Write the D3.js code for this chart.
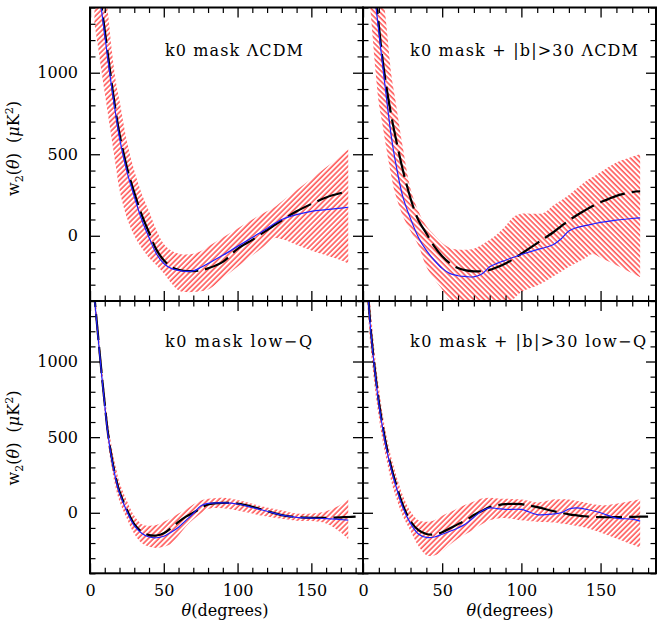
<!DOCTYPE html>
<html><head><meta charset="utf-8">
<script src="https://cdn.jsdelivr.net/npm/d3@7"></script>
<style>
html,body{margin:0;padding:0;background:#fff;}
svg{display:block;}
text{font-family:"DejaVu Serif",serif;fill:#000;}
</style></head>
<body>
<script>
// ---------------- DATA ----------------
const xTickLabels = [0, 50, 100, 150];
const yTickLabels = [0, 500, 1000];
const panelTitles = ["k0 mask \u039BCDM", "k0 mask + |b|>30 \u039BCDM", "k0 mask low\u2212Q", "k0 mask + |b|>30 low\u2212Q"];

// Top-left: k0 mask, LCDM
const thetaTL = [3,5,8,10,12,15,18,20,25,30,35,40,45,50,55,60,65,70,75,80,90,100,110,120,125,130,140,150,160,170,175];
const modelTL = [1740,1600,1395,1260,1120,915,730,625,420,265,130,20,-85,-150,-190,-208,-216,-217,-212,-200,-160,-80,-25,35,65,95,150,195,235,262,272];
const dataTL  = [1720,1580,1370,1230,1090,890,710,600,395,240,100,-10,-110,-170,-200,-212,-218,-215,-195,-170,-120,-65,-10,45,75,100,130,150,160,170,175];
const lowTL   = [1300,1185,995,875,755,575,395,280,110,0,-75,-135,-180,-230,-290,-335,-345,-345,-340,-330,-260,-190,-120,-50,-15,-20,-55,-90,-120,-150,-170];
const highTL  = [2000,1850,1650,1500,1380,1120,920,830,580,400,260,150,35,-50,-90,-110,-115,-110,-95,-65,-10,45,100,150,175,210,280,350,420,490,530];

// Top-right: k0 mask + |b|>30, LCDM
const thetaTR = [3,5,8,10,12,15,18,20,25,30,35,40,45,50,55,60,65,70,75,80,85,90,95,100,110,115,120,125,130,135,140,145,150,160,170,175];
const modelTR = [1920,1740,1470,1290,1110,900,730,630,410,230,95,15,-65,-125,-170,-198,-212,-218,-217,-210,-192,-170,-142,-110,-45,-12,20,58,95,126,155,182,205,245,268,273];
const dataTR  = [1870,1690,1420,1250,1080,830,600,480,245,105,-10,-90,-150,-200,-232,-245,-250,-252,-235,-190,-168,-150,-132,-115,-85,-72,-55,-20,30,50,62,72,82,96,106,110];
const lowTR   = [1580,1350,1000,810,700,522,360,270,125,30,-60,-190,-265,-330,-410,-460,-470,-475,-475,-470,-455,-430,-390,-345,-305,-280,-250,-220,-190,-165,-140,-112,-135,-180,-230,-253];
const highTR  = [2300,2100,1850,1700,1550,1270,980,860,550,290,150,60,5,-45,-75,-85,-85,-80,-55,-25,12,60,115,135,135,145,185,216,250,290,330,360,390,450,485,502];

// Bottom-left: k0 mask, low-Q
const thetaBL = [2,3,5,8,10,12,15,18,20,25,30,35,40,45,50,55,60,65,70,75,80,90,100,110,120,130,140,150,160,170,175,180];
const modelBL = [1530,1430,1220,910,720,540,350,210,140,20,-75,-125,-148,-150,-135,-100,-60,-25,0,30,55,66,60,40,11,-15,-28,-33,-34,-30,-28,-25];
const dataBL  = [1520,1420,1210,900,710,530,340,200,130,10,-85,-135,-160,-165,-155,-128,-95,-50,-5,45,62,65,58,35,10,-15,-30,-35,-38,-45,-48,null];
const lowBL   = [1450,1360,1150,840,650,470,280,140,75,-40,-140,-200,-225,-232,-225,-205,-150,-90,-45,-5,25,30,15,-5,-25,-40,-52,-55,-70,-130,-175,null];
const highBL  = [1600,1500,1290,980,790,610,420,280,200,80,-20,-75,-85,-80,-60,-35,-5,22,55,80,92,100,85,60,35,15,-5,-5,10,55,90,null];

// Bottom-right: k0 mask + |b|>30, low-Q
const thetaBR = [2,3,5,8,10,12,15,18,20,25,30,35,40,45,50,55,60,65,70,75,80,85,90,100,105,110,120,125,130,135,140,150,160,170,175,180];
const modelBR = [1650,1480,1200,900,735,600,430,295,220,55,-55,-115,-140,-143,-128,-102,-75,-50,-15,12,38,50,57,57,48,37,12,0,-10,-17,-23,-29,-29,-27,-26,-25];
const dataBR  = [1640,1470,1190,890,720,585,415,280,205,40,-70,-140,-163,-160,-142,-122,-100,-72,-30,12,32,28,22,22,5,-12,-8,0,25,33,25,0,-35,-42,-55,null];
const lowBR   = [1500,1340,1070,780,630,500,340,200,130,-20,-120,-220,-280,-283,-255,-210,-170,-140,-110,-75,-50,-38,-35,-50,-55,-60,-65,-70,-78,-88,-97,-130,-170,-210,-231,null];
const highBR  = [1800,1620,1330,1000,830,680,500,360,285,120,10,-50,-60,-50,-20,5,30,55,75,95,100,95,92,88,78,68,88,88,88,78,68,50,60,80,90,null];

// ---------------- LAYOUT ----------------
const W = 658, H = 625;
const xL = [90, 363], xR = [363, 656];
const yT = [301, 7.5], yB = [573.3, 301];
const xDomain = [0, 185], yDomain = [-400, 1400];

const panels = [
  {id:"tl", xr:xL, yr:yT, theta:thetaTL, model:modelTL, data:dataTL, low:lowTL, high:highTL, title:panelTitles[0], hatch:45,  tx:[165,303], ty:56,  left:true,  bottom:false},
  {id:"tr", xr:xR, yr:yT, theta:thetaTR, model:modelTR, data:dataTR, low:lowTR, high:highTR, title:panelTitles[1], hatch:-45, tx:[410,638], ty:56,  left:false, bottom:false},
  {id:"bl", xr:xL, yr:yB, theta:thetaBL, model:modelBL, data:dataBL, low:lowBL, high:highBL, title:panelTitles[2], hatch:45,  tx:[165,312], ty:347, left:true,  bottom:true},
  {id:"br", xr:xR, yr:yB, theta:thetaBR, model:modelBR, data:dataBR, low:lowBR, high:highBR, title:panelTitles[3], hatch:45,  tx:[410,646], ty:347, left:false, bottom:true}
];

const svg = d3.select("body").append("svg").attr("width", W).attr("height", H);
const defs = svg.append("defs");

[45, -45].forEach(a => {
  const p = defs.append("pattern")
    .attr("id", "hatch" + (a > 0 ? "P" : "N"))
    .attr("patternUnits", "userSpaceOnUse")
    .attr("width", 3.7).attr("height", 10)
    .attr("patternTransform", `rotate(${a})`);
  p.append("line").attr("x1", 1).attr("x2", 1).attr("y1", 0).attr("y2", 10)
    .attr("stroke", "#ff0000").attr("stroke-width", 1.05);
});

const minorX = d3.range(0, 181, 10).filter(v => v % 50 !== 0);
const minorY = d3.range(-400, 1401, 100).filter(v => v % 500 !== 0);

panels.forEach(p => {
  const x = d3.scaleLinear().domain(xDomain).range(p.xr);
  const y = d3.scaleLinear().domain(yDomain).range(p.yr);
  const pw = p.xr[1] - p.xr[0], ph = p.yr[0] - p.yr[1];

  defs.append("clipPath").attr("id", "clip-" + p.id)
    .append("rect").attr("x", p.xr[0]).attr("y", p.yr[1]).attr("width", pw).attr("height", ph);

  const g = svg.append("g").attr("clip-path", `url(#clip-${p.id})`);
  const rows = p.theta.map((t, i) => ({t, m:p.model[i], d:p.data[i], lo:p.low[i], hi:p.high[i]}));

  const area = d3.area().defined(r => r.lo != null && r.hi != null)
    .x(r => x(r.t)).y0(r => y(r.lo)).y1(r => y(r.hi)).curve(d3.curveCatmullRom);
  g.append("path").datum(rows).attr("d", area)
    .attr("fill", `url(#hatch${p.hatch > 0 ? "P" : "N"})`);

  const lineM = d3.line().defined(r => r.m != null).x(r => x(r.t)).y(r => y(r.m)).curve(d3.curveCatmullRom);
  g.append("path").datum(rows).attr("d", lineM)
    .attr("fill", "none").attr("stroke", "#000").attr("stroke-width", 2.2)
    .attr("stroke-dasharray", "26,7");

  const lineD = d3.line().defined(r => r.d != null).x(r => x(r.t)).y(r => y(r.d)).curve(d3.curveCatmullRom);
  g.append("path").datum(rows).attr("d", lineD)
    .attr("fill", "none").attr("stroke", "#2020ff").attr("stroke-width", 1.2);

  // axes: ticks inside on all four sides
  const sides = [
    {ax: d3.axisBottom(x), t:`translate(0,${p.yr[0]})`, lab:p.bottom, pad:11, major:xTickLabels, minor:minorX},
    {ax: d3.axisTop(x),    t:`translate(0,${p.yr[1]})`, lab:false,    pad:11, major:xTickLabels, minor:minorX},
    {ax: d3.axisLeft(y),   t:`translate(${p.xr[0]},0)`, lab:p.left,   pad:12, major:yTickLabels, minor:minorY},
    {ax: d3.axisRight(y),  t:`translate(${p.xr[1]},0)`, lab:false,    pad:12, major:yTickLabels, minor:minorY}
  ];
  sides.forEach(sd => {
    const gm = svg.append("g").attr("transform", sd.t)
      .call(sd.ax.tickValues(sd.major).tickSize(-10).tickPadding(sd.pad)
        .tickFormat(sd.lab ? d3.format("d") : () => ""));
    gm.select(".domain").remove();
    gm.selectAll("line").attr("stroke", "#000").attr("stroke-width", 1.3);
    gm.selectAll("text").attr("font-size", 16).attr("font-family", "DejaVu Serif");
    const gn = svg.append("g").attr("transform", sd.t)
      .call(sd.ax.tickValues(sd.minor).tickSize(-5.5).tickFormat(() => ""));
    gn.select(".domain").remove();
    gn.selectAll("line").attr("stroke", "#000").attr("stroke-width", 1.2);
  });

  svg.append("rect").attr("x", p.xr[0]).attr("y", p.yr[1]).attr("width", pw).attr("height", ph)
    .attr("fill", "none").attr("stroke", "#000").attr("stroke-width", 2);

  svg.append("text").attr("x", p.tx[0]).attr("y", p.ty)
    .attr("font-size", 16).attr("textLength", p.tx[1] - p.tx[0]).attr("lengthAdjust", "spacing")
    .text(p.title);
});

// y-axis titles
[148.5, 438].forEach(cy => {
  const t = svg.append("text").attr("transform", `translate(19,${cy}) rotate(-90)`)
    .attr("text-anchor", "middle").attr("font-size", 16);
  t.append("tspan").text("w");
  t.append("tspan").attr("font-size", 11).attr("dy", 4).text("2");
  t.append("tspan").attr("dy", -4).text("(");
  t.append("tspan").attr("font-style", "italic").text("\u03B8");
  t.append("tspan").text(")\u00A0\u00A0(");
  t.append("tspan").attr("font-style", "italic").text("\u03BC");
  t.append("tspan").text("K");
  t.append("tspan").attr("font-size", 11).attr("dy", -6).text("2");
  t.append("tspan").attr("dy", 6).text(")");
});

// x-axis titles
[225, 510].forEach(cx => {
  const t = svg.append("text").attr("x", cx).attr("y", 616)
    .attr("text-anchor", "middle").attr("font-size", 16);
  t.append("tspan").attr("font-style", "italic").text("\u03B8");
  t.append("tspan").text("(degrees)");
});
</script>
</body></html>
